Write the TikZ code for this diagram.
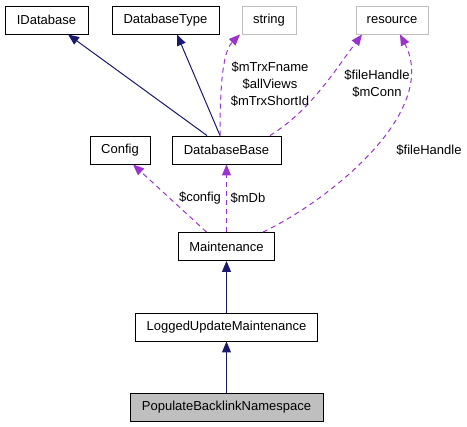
\documentclass[tikz,border=0pt]{standalone}
\usepackage{fontspec}
\setmainfont{Liberation Sans}
\usetikzlibrary{arrows.meta,calc}
\usetikzlibrary{positioning}
\definecolor{edgenavy}{HTML}{191970}
\definecolor{edgeorchid}{HTML}{9A32CD}
\definecolor{boxgray}{HTML}{BFBFBF}
\tikzset{
  cls/.style={draw=black, line width=0.9pt, minimum height=28pt, inner sep=0pt, font=\fontsize{13}{17}\selectfont},
  extcls/.style={cls, draw=boxgray},
  inh/.style={draw=edgenavy, line width=1pt, -{Triangle[length=11pt,width=9pt]}},
  use/.style={draw=edgeorchid, line width=1pt, dash pattern=on 5pt off 4pt, -{Triangle[length=11pt,width=9pt]}},
  lbl/.style={inner sep=0pt, align=center, font=\fontsize{13}{17}\selectfont}
}
\begin{document}
\begin{tikzpicture}[x=1pt,y=-1pt]
\useasboundingbox (0,0) rectangle (467,427);
\node[cls, minimum width=83pt] (idb) at (46.5,20) {IDatabase};
\node[cls, minimum width=107pt] (dbtype) at (165.5,20) {DatabaseType};
\node[extcls, minimum width=54pt] (str) at (269,20) {string};
\node[extcls, minimum width=72pt] (res) at (392,20) {resource};
\node[cls, minimum width=60pt] (cfg) at (120,150) {Config};
\node[cls, minimum width=109pt] (dbbase) at (226.5,150) {DatabaseBase};
\node[cls, minimum width=96pt] (maint) at (226.5,246.5) {Maintenance};
\node[cls, minimum width=182pt] (logged) at (226.5,327) {LoggedUpdateMaintenance};
\node[cls, fill=boxgray, minimum width=193pt] (populate) at (226.5,407) {PopulateBacklinkNamespace};
\draw[inh] ([xshift=-19.5pt]dbbase.north) -- ([xshift=21.5pt]idb.south);
\draw[inh] ([xshift=-6.5pt]dbbase.north) -- ([xshift=11.5pt]dbtype.south);
\draw[use] ([xshift=-6.5pt]dbbase.north) .. controls +(0,-65) and +(-15,15) .. ([xshift=-29pt]str.south);
\draw[use] ([xshift=43.5pt]dbbase.north) .. controls +(40,-25) and +(-30,40) .. ([xshift=-30pt]res.south);
\draw[use] ([xshift=36.5pt]maint.north) .. controls +(67,-32) and +(40,77) .. ([xshift=8pt]res.south);
\draw[use] ([xshift=-20pt]maint.north) -- ([xshift=13pt]cfg.south);
\draw[use] (maint) -- (dbbase);
\draw[inh] (logged) -- (maint);
\draw[inh] (populate) -- (logged);
\node[lbl] (lstr) at (270,84) {\$mTrxFname\\\$allViews\\\$mTrxShortId};
\node[lbl] (lres) at (377,84) {\$fileHandle\\\$mConn};
\node[lbl] (lfh) at (429,150) {\$fileHandle};
\node[lbl] (lcfg) at (200,198) {\$config};
\node[lbl] (lmdb) at (248,198) {\$mDb};
\end{tikzpicture}
\end{document}
